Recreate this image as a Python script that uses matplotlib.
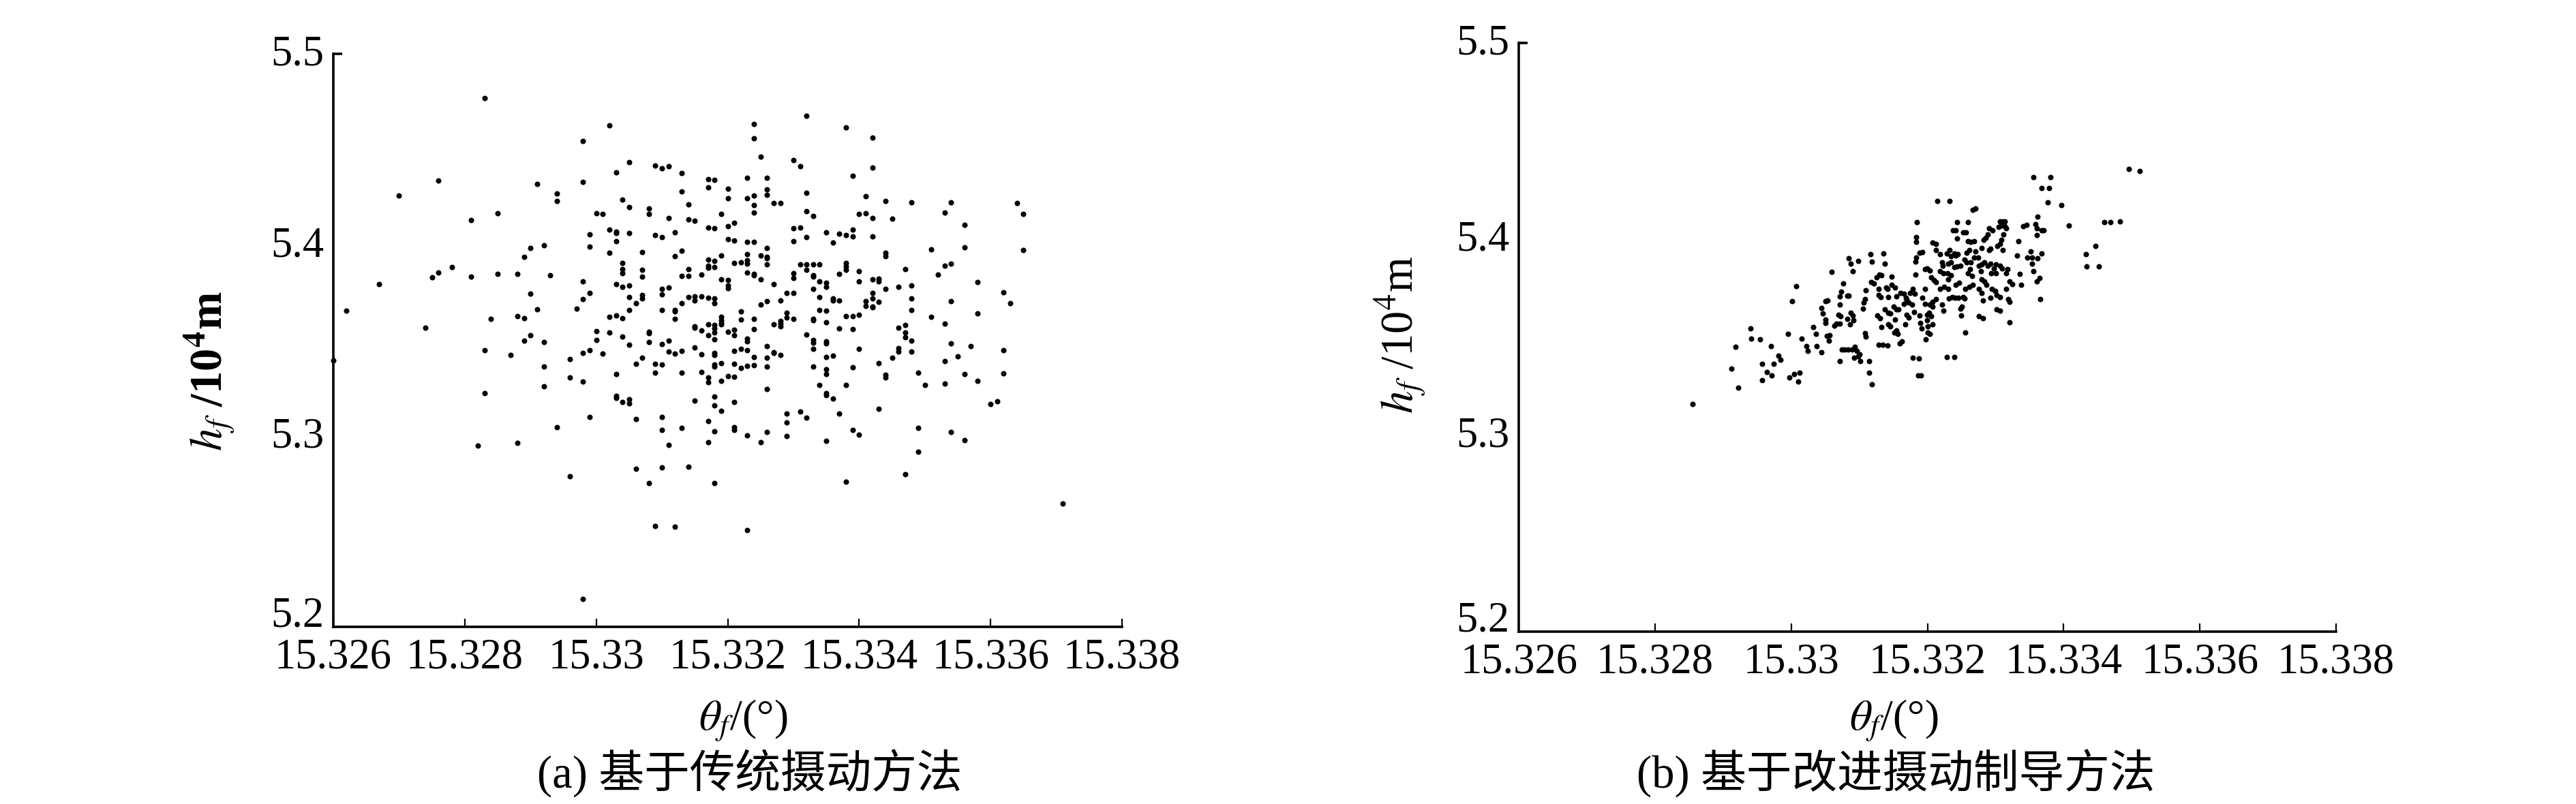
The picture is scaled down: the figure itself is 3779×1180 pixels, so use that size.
import matplotlib
matplotlib.use('Agg')
import matplotlib.pyplot as plt
from matplotlib.transforms import ScaledTranslation

plt.rcParams['font.family'] = ['Liberation Serif', 'Noto Sans CJK SC']
plt.rcParams['mathtext.fontset'] = 'stix'

# ---------------- data ----------------
x_ticks = [15.326, 15.328, 15.33, 15.332, 15.334, 15.336, 15.338]
x_tick_labels = ['15.326', '15.328', '15.33', '15.332', '15.334', '15.336', '15.338']
y_ticks = [5.2, 5.3, 5.4, 5.5]
y_tick_labels = ['5.2', '5.3', '5.4', '5.5']

caption_a = '(a) 基于传统摄动方法'
caption_b = '(b) 基于改进摄动制导方法'
xlabel_text = r'$\theta_f$/(°)'

# (a) traditional perturbation method
theta_a = [
    15.3283, 15.3302, 15.3332, 15.3324, 15.3324, 15.3338, 15.3342, 15.3298, 15.3325, 15.3330,
    15.3342, 15.3305, 15.3309, 15.3310, 15.3311, 15.3331, 15.3303, 15.3313, 15.3339, 15.3276,
    15.3291, 15.3298, 15.3317, 15.3318, 15.3323, 15.3326, 15.3317, 15.3332, 15.3294, 15.3294,
    15.3270, 15.3313, 15.3320, 15.3320, 15.3323, 15.3324, 15.3326, 15.3326, 15.3327, 15.3328,
    15.3324, 15.3324, 15.3341, 15.3344, 15.3348, 15.3354, 15.3364, 15.3365, 15.3353, 15.3332,
    15.3333, 15.3304, 15.3305, 15.3308, 15.3308, 15.3300, 15.3301, 15.3314, 15.3311, 15.3314,
    15.3315, 15.3319, 15.3321, 15.3340, 15.3342, 15.3345, 15.3341, 15.3285, 15.3281, 15.3302,
    15.3303, 15.3303, 15.3302, 15.3303, 15.3305, 15.3299, 15.3317, 15.3318, 15.3320, 15.3309,
    15.3310, 15.3312, 15.3320, 15.3321, 15.3323, 15.3324, 15.3326, 15.3330, 15.3330, 15.3332,
    15.3335, 15.3336, 15.3338, 15.3339, 15.3339, 15.3342, 15.3356, 15.3351, 15.3356, 15.3365,
    15.3344, 15.3344, 15.3353, 15.3354, 15.3347, 15.3352, 15.3348, 15.3358, 15.3362, 15.3363,
    15.3354, 15.3358, 15.3351, 15.3353, 15.3348, 15.3348, 15.3346, 15.3344, 15.3342, 15.3343,
    15.3343, 15.3342, 15.3341, 15.3340, 15.3339, 15.3338, 15.3339, 15.3340, 15.3339, 15.3338,
    15.3337, 15.3339, 15.3340, 15.3338, 15.3343, 15.3343, 15.3344, 15.3344, 15.3345, 15.3346,
    15.3346, 15.3347, 15.3347, 15.3346, 15.3347, 15.3348, 15.3348, 15.3349, 15.3350, 15.3349,
    15.3349, 15.3347, 15.3354, 15.3356, 15.3353, 15.3353, 15.3354, 15.3357, 15.3356, 15.3358,
    15.3360, 15.3361, 15.3362, 15.3362, 15.3262, 15.3260, 15.3267, 15.3274, 15.3275, 15.3276,
    15.3278, 15.3281, 15.3285, 15.3288, 15.3284, 15.3283, 15.3283, 15.3282, 15.3288, 15.3287,
    15.3288, 15.3289, 15.3289, 15.3290, 15.3290, 15.3291, 15.3289, 15.3290, 15.3292, 15.3292,
    15.3292, 15.3292, 15.3293, 15.3294, 15.3296, 15.3296, 15.3296, 15.3297, 15.3298, 15.3298,
    15.3299, 15.3298, 15.3298, 15.3299, 15.3299, 15.3300, 15.3300, 15.3299, 15.3298, 15.3301,
    15.3302, 15.3302, 15.3303, 15.3304, 15.3303, 15.3303, 15.3303, 15.3304, 15.3305, 15.3305,
    15.3303, 15.3304, 15.3304, 15.3304, 15.3304, 15.3305, 15.3305, 15.3304, 15.3305, 15.3305,
    15.3306, 15.3307, 15.3307, 15.3307, 15.3307, 15.3307, 15.3306, 15.3306, 15.3306, 15.3307,
    15.3308, 15.3308, 15.3308, 15.3309, 15.3309, 15.3310, 15.3308, 15.3309, 15.3310, 15.3310,
    15.3311, 15.3310, 15.3310, 15.3311, 15.3310, 15.3310, 15.3310, 15.3311, 15.3312, 15.3312,
    15.3312, 15.3313, 15.3311, 15.3312, 15.3313, 15.3313, 15.3313, 15.3312, 15.3314, 15.3312,
    15.3313, 15.3313, 15.3314, 15.3314, 15.3314, 15.3315, 15.3315, 15.3315, 15.3315, 15.3315,
    15.3316, 15.3315, 15.3316, 15.3316, 15.3317, 15.3316, 15.3317, 15.3317, 15.3318, 15.3316,
    15.3317, 15.3318, 15.3318, 15.3317, 15.3318, 15.3318, 15.3318, 15.3318, 15.3318, 15.3318,
    15.3319, 15.3319, 15.3319, 15.3319, 15.3318, 15.3317, 15.3317, 15.3317, 15.3318, 15.3317,
    15.3318, 15.3318, 15.3318, 15.3319, 15.3319, 15.3318, 15.3318, 15.3317, 15.3319, 15.3320,
    15.3320, 15.3320, 15.3319, 15.3321, 15.3320, 15.3321, 15.3319, 15.3320, 15.3321, 15.3321,
    15.3321, 15.3321, 15.3321, 15.3321, 15.3321, 15.3322, 15.3322, 15.3322, 15.3322, 15.3322,
    15.3323, 15.3323, 15.3323, 15.3323, 15.3324, 15.3324, 15.3323, 15.3323, 15.3323, 15.3323,
    15.3324, 15.3323, 15.3323, 15.3324, 15.3324, 15.3324, 15.3325, 15.3325, 15.3326, 15.3326,
    15.3326, 15.3326, 15.3325, 15.3325, 15.3326, 15.3327, 15.3326, 15.3326, 15.3326, 15.3326,
    15.3327, 15.3327, 15.3328, 15.3327, 15.3328, 15.3329, 15.3330, 15.3328, 15.3328, 15.3329,
    15.3329, 15.3328, 15.3329, 15.3329, 15.3329, 15.3330, 15.3330, 15.3330, 15.3331, 15.3332,
    15.3332, 15.3333, 15.3333, 15.3333, 15.3334, 15.3333, 15.3334, 15.3335, 15.3335, 15.3334,
    15.3333, 15.3333, 15.3333, 15.3333, 15.3332, 15.3333, 15.3333, 15.3332, 15.3331, 15.3335,
    15.3335, 15.3334, 15.3335, 15.3336, 15.3336, 15.3337, 15.3335, 15.3335, 15.3335, 15.3335,
    15.3334, 15.3335, 15.3335, 15.3336, 15.3335, 15.3336, 15.3337, 15.3337, 15.3338, 15.3338,
    15.3338, 15.3337, 15.3340, 15.3341, 15.3342, 15.3340, 15.3331, 15.3342, 15.3342, 15.3343,
    15.3355, 15.3371,
]
h_a = [
    5.4767, 5.4627, 5.4674, 5.4633, 5.4556, 5.4613, 5.4562, 5.4545, 5.4461, 5.4443,
    5.4404, 5.4433, 5.4416, 5.4400, 5.4410, 5.4410, 5.4380, 5.4375, 5.4360, 5.4336,
    5.4320, 5.4328, 5.4345, 5.4340, 5.4350, 5.4352, 5.4300, 5.4273, 5.4267, 5.4228,
    5.4259, 5.4280, 5.4244, 5.4293, 5.4244, 5.4258, 5.4262, 5.4290, 5.4220, 5.4220,
    5.4207, 5.4170, 5.4255, 5.4230, 5.4222, 5.4222, 5.4218, 5.4162, 5.4170, 5.4177,
    5.4150, 5.4238, 5.4197, 5.4190, 5.4160, 5.4165, 5.4160, 5.4212, 5.4140, 5.4132,
    5.4126, 5.4160, 5.4117, 5.4162, 5.4140, 5.4136, 5.4166, 5.4164, 5.4128, 5.4080,
    5.4068, 5.4018, 5.3960, 5.4062, 5.4062, 5.4054, 5.4090, 5.4088, 5.4097, 5.4050,
    5.4040, 5.4066, 5.4030, 5.4023, 5.4016, 5.4016, 5.3985, 5.4087, 5.4020, 5.4040,
    5.4066, 5.4013, 5.4050, 5.4045, 5.4080, 5.4044, 5.4103, 5.3975, 5.3986, 5.3973,
    5.3960, 5.3940, 5.3890, 5.3900, 5.3874, 5.3845, 5.3788, 5.3806, 5.3750, 5.3693,
    5.3706, 5.3642, 5.3624, 5.3587, 5.3720, 5.3660, 5.3780, 5.3770, 5.3818, 5.3810,
    5.3703, 5.3677, 5.3680, 5.3634, 5.3626, 5.3628, 5.3560, 5.3456, 5.3360, 5.3265,
    5.3116, 5.3030, 5.3005, 5.2760, 5.3143, 5.3380, 5.3320, 5.3304, 5.3409, 5.3440,
    5.3460, 5.3515, 5.3540, 5.3567, 5.3580, 5.3500, 5.3440, 5.3330, 5.3265, 5.3042,
    5.2917, 5.2800, 5.3020, 5.2977, 5.3390, 5.3274, 5.3483, 5.3470, 5.3325, 5.3286,
    5.3167, 5.3180, 5.3327, 5.3450, 5.3654, 5.3393, 5.3794, 5.3566, 5.3829, 5.3855,
    5.3884, 5.3833, 5.3847, 5.3847, 5.3614, 5.3450, 5.3222, 5.2948, 5.2964, 5.3423,
    5.3628, 5.3615, 5.3499, 5.3528, 5.3743, 5.3663, 5.3937, 5.3982, 5.3997, 5.3491,
    5.3362, 5.3259, 5.3841, 5.3044, 5.2790, 5.3306, 5.3403, 5.3665, 5.3808, 5.3716,
    5.3747, 5.3433, 5.3284, 5.3992, 5.3448, 5.3548, 5.3501, 5.3097, 5.2147, 5.3430,
    5.3540, 5.3624, 5.3630, 5.3615, 5.3323, 5.3210, 5.3198, 5.3177, 5.3192, 5.3170,
    5.3796, 5.3853, 5.3873, 5.3904, 5.3780, 5.3786, 5.3660, 5.3520, 5.3476, 5.3726,
    5.3693, 5.3718, 5.3738, 5.3833, 5.3870, 5.3962, 5.2827, 5.3087, 5.3378, 5.3409,
    5.3536, 5.3546, 5.3490, 5.3378, 5.3330, 5.3097, 5.2751, 5.2528, 5.2833, 5.3032,
    5.2952, 5.3374, 5.3480, 5.3497, 5.3657, 5.3740, 5.3771, 5.3777, 5.3614, 5.3650,
    5.3657, 5.3693, 5.3442, 5.3431, 5.3330, 5.3446, 5.3042, 5.2526, 5.2839, 5.3940,
    5.3970, 5.3837, 5.3837, 5.3872, 5.3726, 5.3708, 5.3730, 5.3573, 5.3566, 5.3464,
    5.3427, 5.3183, 5.3333, 5.3552, 5.3525, 5.3845, 5.3880, 5.3892, 5.3882, 5.3730,
    5.3722, 5.3720, 5.3693, 5.3583, 5.3580, 5.3562, 5.3542, 5.3507, 5.3435, 5.3425,
    5.3583, 5.3590, 5.3604, 5.3624, 5.3374, 5.3282, 5.3304, 5.3079, 5.3024, 5.2968,
    5.2753, 5.3204, 5.3161, 5.3132, 5.3288, 5.3362, 5.3917, 5.3923, 5.3820, 5.3787,
    5.3814, 5.3773, 5.3945, 5.3906, 5.3313, 5.3309, 5.3380, 5.3546, 5.3556, 5.3528,
    5.3443, 5.3376, 5.3046, 5.3030, 5.3177, 5.3354, 5.3610, 5.3652, 5.3454, 5.3910,
    5.3919, 5.3951, 5.3900, 5.3855, 5.3840, 5.3847, 5.3509, 5.3493, 5.3448, 5.3368,
    5.3370, 5.3001, 5.2508, 5.3612, 5.3558, 5.3413, 5.2967, 5.3943, 5.3931, 5.3937,
    5.3896, 5.3706, 5.3686, 5.3818, 5.3470, 5.3439, 5.3409, 5.3363, 5.3245, 5.3020,
    5.3794, 5.3583, 5.3600, 5.3435, 5.3710, 5.3747, 5.3747, 5.3573, 5.3589, 5.3620,
    5.3645, 5.3425, 5.3116, 5.3070, 5.2999, 5.3853, 5.3826, 5.3614, 5.3898, 5.3896,
    5.3870, 5.3841, 5.3835, 5.3898, 5.3898, 5.3771, 5.3808, 5.3800, 5.3780, 5.3726,
    5.3614, 5.3605, 5.3489, 5.3501, 5.3532, 5.3362, 5.3454, 5.3095, 5.3128, 5.3485,
    5.3495, 5.3660, 5.3655, 5.3720, 5.3710, 5.3708, 5.3595, 5.3413, 5.3350, 5.3323,
    5.3265, 5.3224, 5.3214, 5.3194, 5.2973, 5.3419, 5.3562, 5.3849, 5.3870, 5.3886,
    5.3906, 5.4060, 5.3861, 5.3706, 5.3673, 5.3808, 5.4090, 5.3747, 5.3720, 5.3822,
    5.3417, 5.2647,
]

# (b) improved perturbation guidance method
theta_b = [
    15.32855, 15.32912, 15.32918, 15.32922, 15.32940, 15.32941, 15.32954, 15.32957, 15.32957, 15.32964,
    15.32971, 15.32974, 15.32970, 15.32981, 15.32984, 15.32997, 15.33010, 15.33012, 15.33004, 15.32995,
    15.33001, 15.33007, 15.33015, 15.33022, 15.33024, 15.33032, 15.33036, 15.33037, 15.33044, 15.33044,
    15.33046, 15.33050, 15.33050, 15.33052, 15.33056, 15.33055, 15.33050, 15.33053, 15.33059, 15.33063,
    15.33066, 15.33071, 15.33069, 15.33072, 15.33071, 15.33073, 15.33071, 15.33076, 15.33074, 15.33078,
    15.33071, 15.33082, 15.33084, 15.33084, 15.33087, 15.33090, 15.33082, 15.33086, 15.33087, 15.33090,
    15.33091, 15.33083, 15.33089, 15.33093, 15.33096, 15.33092, 15.33100, 15.33098, 15.33101, 15.33098,
    15.33105, 15.33106, 15.33108, 15.33109, 15.33108, 15.33109, 15.33114, 15.33118, 15.33114, 15.33116,
    15.33118, 15.33117, 15.33121, 15.33125, 15.33129, 15.33132, 15.33128, 15.33128, 15.33131, 15.33126,
    15.33130, 15.33132, 15.33128, 15.33134, 15.33135, 15.33137, 15.33139, 15.33142, 15.33141, 15.33137,
    15.33142, 15.33145, 15.33142, 15.33145, 15.33141, 15.33147, 15.33147, 15.33152, 15.33154, 15.33150,
    15.33154, 15.33157, 15.33151, 15.33156, 15.33154, 15.33152, 15.33159, 15.33162, 15.33160, 15.33165,
    15.33168, 15.33165, 15.33169, 15.33172, 15.33169, 15.33172, 15.33167, 15.33174, 15.33178, 15.33181,
    15.33180, 15.33177, 15.33182, 15.33182, 15.33183, 15.33183, 15.33183, 15.33184, 15.33178, 15.33187,
    15.33186, 15.33190, 15.33188, 15.33189, 15.33191, 15.33192, 15.33196, 15.33196, 15.33188, 15.33192,
    15.33196, 15.33199, 15.33204, 15.33197, 15.33201, 15.33204, 15.33199, 15.33203, 15.33206, 15.33199,
    15.33201, 15.33208, 15.33204, 15.33208, 15.33208, 15.33213, 15.33206, 15.33210, 15.33213, 15.33208,
    15.33213, 15.33215, 15.33233, 15.33213, 15.33219, 15.33222, 15.33223, 15.33219, 15.33224, 15.33219,
    15.33225, 15.33222, 15.33224, 15.33231, 15.33235, 15.33233, 15.33229, 15.33235, 15.33230, 15.33231,
    15.33235, 15.33231, 15.33232, 15.33237, 15.33238, 15.33242, 15.33244, 15.33244, 15.33240, 15.33242,
    15.33245, 15.33240, 15.33244, 15.33249, 15.33242, 15.33247, 15.33241, 15.33246, 15.33249, 15.33251,
    15.33250, 15.33256, 15.33229, 15.33240, 15.33253, 15.33257, 15.33260, 15.33260, 15.33264, 15.33269,
    15.33258, 15.33262, 15.33255, 15.33258, 15.33264, 15.33260, 15.33263, 15.33266, 15.33256, 15.33262,
    15.33267, 15.33253, 15.33255, 15.33267, 15.33271, 15.33269, 15.33271, 15.33275, 15.33276, 15.33280,
    15.33279, 15.33280, 15.33283, 15.33286, 15.33289, 15.33280, 15.33284, 15.33287, 15.33276, 15.33280,
    15.33282, 15.33276, 15.33282, 15.33284, 15.33289, 15.33293, 15.33291, 15.33293, 15.33291, 15.33296,
    15.33294, 15.33298, 15.33301, 15.33295, 15.33300, 15.33302, 15.33293, 15.33307, 15.33301, 15.33307,
    15.33310, 15.33303, 15.33307, 15.33309, 15.33312, 15.33307, 15.33311, 15.33314, 15.33305, 15.33309,
    15.33314, 15.33316, 15.33302, 15.33307, 15.33311, 15.33316, 15.33318, 15.33321, 15.33316, 15.33319,
    15.33321, 15.33321, 15.33325, 15.33336, 15.33332, 15.33338, 15.33334, 15.33341, 15.33346, 15.33347,
    15.33354, 15.33354, 15.33352, 15.33356, 15.33356, 15.33368, 15.33379, 15.33381, 15.33359, 15.33361,
    15.33362, 15.33361, 15.33368, 15.33371, 15.33362, 15.33361, 15.33365, 15.33366, 15.33368, 15.33377,
    15.33397, 15.33408, 15.33433, 15.33434, 15.33447, 15.33452, 15.33460, 15.33469, 15.33483, 15.33496,
    15.33512,
]
h_b = [
    5.3158, 5.3340, 5.3450, 5.3242, 5.3546, 5.3492, 5.3490, 5.3366, 5.3280, 5.3322,
    5.3306, 5.3366, 5.3456, 5.3406, 5.3386, 5.3296, 5.3276, 5.3320, 5.3312, 5.3516,
    5.3684, 5.3760, 5.3494, 5.3456, 5.3432, 5.3552, 5.3516, 5.3456, 5.3422, 5.3650,
    5.3622, 5.3572, 5.3592, 5.3506, 5.3510, 5.3482, 5.3684, 5.3686, 5.3834, 5.3560,
    5.3570, 5.3570, 5.3616, 5.3606, 5.3710, 5.3734, 5.3666, 5.3774, 5.3436, 5.3436,
    5.3378, 5.3712, 5.3712, 5.3904, 5.3876, 5.3836, 5.3594, 5.3566, 5.3626, 5.3612,
    5.3588, 5.3436, 5.3436, 5.3452, 5.3430, 5.3396, 5.3414, 5.3402, 5.3378, 5.3890,
    5.3646, 5.3676, 5.3696, 5.3740, 5.3522, 5.3502, 5.3320, 5.3260, 5.3380, 5.3924,
    5.3886, 5.3782, 5.3774, 5.3806, 5.3820, 5.3816, 5.3746, 5.3716, 5.3706, 5.3610,
    5.3596, 5.3552, 5.3462, 5.3462, 5.3928, 5.3874, 5.3752, 5.3706, 5.3746, 5.3642,
    5.3626, 5.3620, 5.3566, 5.3554, 5.3460, 5.3808, 5.3766, 5.3752, 5.3710, 5.3656,
    5.3642, 5.3642, 5.3526, 5.3516, 5.3536, 5.3590, 5.3470, 5.3480, 5.3726, 5.3722,
    5.3702, 5.3670, 5.3690, 5.3676, 5.3616, 5.3602, 5.3566, 5.3726, 5.3746, 5.3722,
    5.3630, 5.3666, 5.3818, 5.3886, 5.3906, 5.4010, 5.3986, 5.4086, 5.3396, 5.3394,
    5.3304, 5.3304, 5.3612, 5.3572, 5.3546, 5.3700, 5.3670, 5.3746, 5.3932, 5.3934,
    5.3846, 5.3850, 5.3842, 5.3490, 5.3526, 5.3516, 5.3616, 5.3626, 5.3606, 5.3586,
    5.3556, 5.3566, 5.3666, 5.3656, 5.3682, 5.3696, 5.3806, 5.3790, 5.3780, 5.3982,
    5.3976, 5.4194, 5.4196, 5.3946, 5.3922, 5.3882, 5.3866, 5.3836, 5.3826, 5.3746,
    5.3756, 5.3666, 5.3634, 5.3876, 5.3882, 5.3946, 5.3926, 5.3912, 5.3826, 5.3796,
    5.3816, 5.3746, 5.3698, 5.3706, 5.4046, 5.4046, 5.4086, 5.4002, 5.3926, 5.3916,
    5.3922, 5.3856, 5.3862, 5.3866, 5.3766, 5.3778, 5.3702, 5.3700, 5.3646, 5.3656,
    5.3612, 5.3526, 5.3400, 5.3400, 5.4036, 5.4036, 5.4086, 5.3990, 5.3986, 5.3990,
    5.3930, 5.3946, 5.3896, 5.3882, 5.3882, 5.3826, 5.3846, 5.3812, 5.3746, 5.3756,
    5.3766, 5.3706, 5.3698, 5.4150, 5.4156, 5.3906, 5.3938, 5.3906, 5.3866, 5.3870,
    5.3836, 5.3956, 5.3996, 5.4006, 5.4026, 5.3796, 5.3786, 5.3766, 5.3746, 5.3726,
    5.3686, 5.3606, 5.3596, 5.3882, 5.3866, 5.3876, 5.3946, 5.3950, 5.4056, 5.4046,
    5.3826, 5.3850, 5.3826, 5.3746, 5.3736, 5.3716, 5.3702, 5.3706, 5.3870, 5.3866,
    5.3850, 5.3966, 5.3976, 5.3996, 5.4026, 5.4090, 5.4090, 5.4090, 5.4062, 5.4070,
    5.4066, 5.4056, 5.3642, 5.3636, 5.3946, 5.3826, 5.3846, 5.3786, 5.3746, 5.3696,
    5.3680, 5.3576, 5.3770, 5.3822, 5.3916, 5.3766, 5.3990, 5.4066, 5.4072, 5.3906,
    5.3906, 5.3876, 5.3936, 5.3836, 5.4316, 5.4260, 5.4260, 5.4316, 5.4076, 5.4020,
    5.4114, 5.4054, 5.4046, 5.4046, 5.3902, 5.3786, 5.3802, 5.3696, 5.3926, 5.4186,
    5.4172, 5.4070, 5.3922, 5.3860, 5.3966, 5.3860, 5.4086, 5.4086, 5.4092, 5.4356,
    5.4346,
]

# ---------------- figure ----------------
W, H = 3780, 1180
fig = plt.figure(figsize=(W / 100, H / 100), dpi=100)

ax_a = fig.add_axes([489 / W, 1 - 920 / H, (1646 - 489) / W, (920 - 79) / H])
ax_b = fig.add_axes([2228 / W, 1 - 927 / H, (3427 - 2228) / W, (927 - 63) / H])

for ax, th, hh in ((ax_a, theta_a, h_a), (ax_b, theta_b, h_b)):
    ax.plot(th, hh, linestyle='none', marker='o', ms=5.8, mew=0, color='black', clip_on=False)
    ax.set_xlim(x_ticks[0], x_ticks[-1])
    ax.set_ylim(y_ticks[0], y_ticks[-1])
    for s in ('top', 'right'):
        ax.spines[s].set_visible(False)
    for s in ('left', 'bottom'):
        ax.spines[s].set_linewidth(2.6)
    ax.set_xticks(x_ticks)
    ax.set_xticklabels(x_tick_labels, fontsize=45)
    ax.set_yticks(y_ticks)
    ax.set_yticklabels(y_tick_labels, fontsize=45)
    ax.tick_params(axis='x', direction='in', length=9, width=1.6, pad=12)
    ax.tick_params(axis='y', direction='in', length=9, width=2.6, pad=10)
    ticks = ax.yaxis.get_major_ticks()
    for t in ticks[:-1]:
        t.tick1line.set_visible(False)
    labs = ax.get_yticklabels()
    for i, lab in enumerate(labs):
        dy = 0.22 if i == 0 else 0.05
        lab.set_transform(lab.get_transform() + ScaledTranslation(0, dy, fig.dpi_scale_trans))

# y labels
fig.text(308 / W, 1 - 545 / H, r'$h_f$ /10$^{\mathbf{4}}$m', rotation=90,
         ha='center', va='center', fontsize=48, fontweight='bold')
fig.text(2054 / W, 1 - 491 / H, r'$h_f$ /10$^4$m', rotation=90,
         ha='center', va='center', fontsize=48)

# x labels
fig.text(1090 / W, 1 - 1058 / H, xlabel_text, ha='center', va='center', fontsize=46)
fig.text(2778 / W, 1 - 1058 / H, xlabel_text, ha='center', va='center', fontsize=46)

# captions
fig.text(1100 / W, 1 - 1135 / H, caption_a, ha='center', va='center', fontsize=48)
fig.text(2781 / W, 1 - 1135 / H, caption_b, ha='center', va='center', fontsize=48)

fig.savefig('out.png', dpi=100, facecolor='white')
